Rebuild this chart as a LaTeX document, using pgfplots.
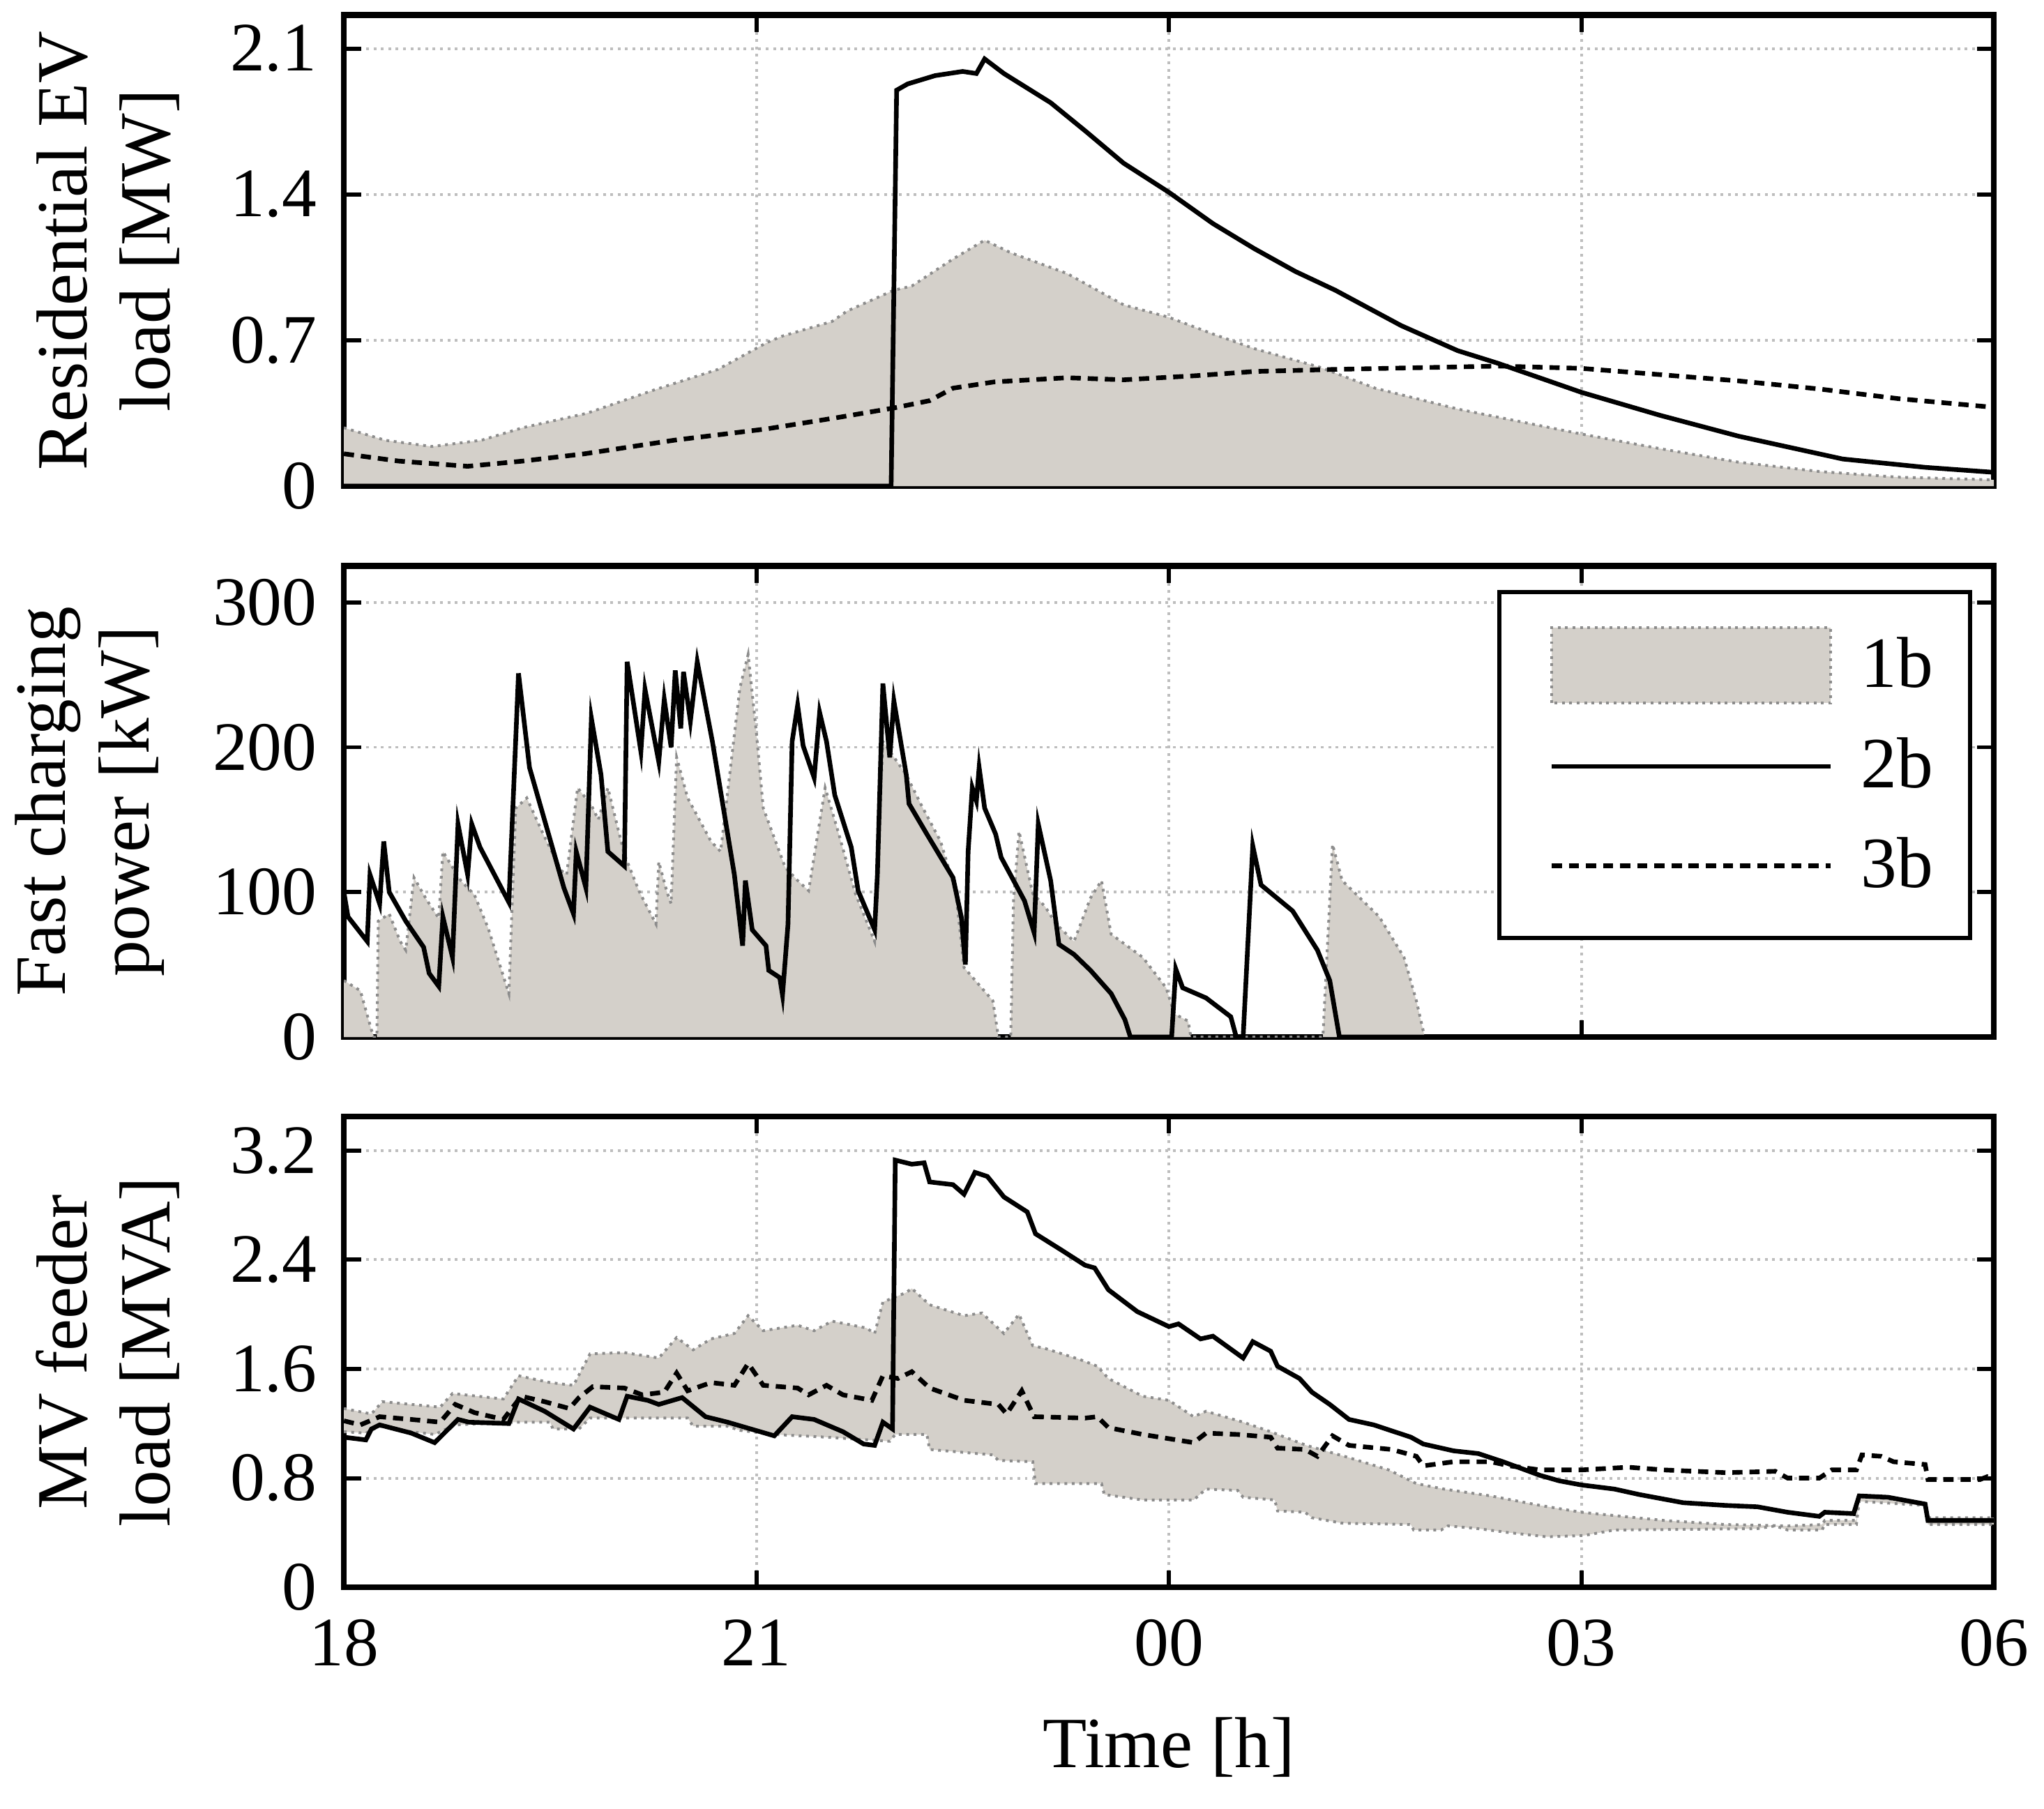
\documentclass[border=0pt]{standalone}
\usepackage{fontspec}
\setmainfont{Liberation Serif}
\usepackage{pgfplots}
\pgfplotsset{compat=1.18}
\usepackage{pgfplotstable}
\usepgfplotslibrary{fillbetween}

\definecolor{fillgray}{RGB}{212,208,202}
\definecolor{edgegray}{RGB}{140,140,140}
\definecolor{gridgray}{RGB}{190,190,190}

\pgfplotstableread{
t v
18 0.28
18.3 0.22
18.64 0.19
19.0 0.22
19.3 0.28
19.77 0.35
20.25 0.46
20.72 0.56
21.08 0.69
21.19 0.72
21.55 0.79
21.66 0.84
22.0 0.94
22.13 0.96
22.43 1.09
22.66 1.18
22.85 1.12
23.26 1.02
23.67 0.87
24 0.81
24.32 0.73
24.62 0.66
25.1 0.57
25.5 0.47
26.1 0.37
27 0.25
27.57 0.18
28.14 0.115
28.73 0.07
29.3 0.043
30 0.03
}\resOne

\pgfplotstableread{
t v
18 0
21.98 0
22.02 1.90
22.1 1.93
22.3 1.97
22.5 1.99
22.6 1.98
22.66 2.05
22.8 1.98
23.14 1.84
23.4 1.70
23.67 1.55
24 1.41
24.32 1.26
24.62 1.14
24.92 1.03
25.21 0.94
25.69 0.77
26.1 0.65
26.39 0.59
27 0.45
27.57 0.34
28.14 0.24
28.9 0.13
29.5 0.09
30 0.066
}\resTwo

\pgfplotstableread{
t v
18 0.155
18.4 0.12
18.9 0.095
19.3 0.12
19.75 0.155
20.4 0.22
21.08 0.275
21.6 0.33
22.0 0.375
22.26 0.41
22.43 0.47
22.73 0.50
23.26 0.52
23.67 0.51
24.2 0.53
24.62 0.55
25.2 0.56
26.4 0.576
27 0.565
27.57 0.535
28.14 0.505
28.73 0.466
29.3 0.42
30 0.378
}\resThree

\pgfplotstableread{
t v
18.0 39
18.12 32
18.2 5
18.22 0
18.24 0
18.25 80
18.33 85
18.41 66
18.45 60
18.51 110
18.6 95
18.69 82
18.72 128
18.85 108
18.95 98
19.05 75
19.15 45
19.2 30
19.25 158
19.33 165
19.45 140
19.58 115
19.62 112
19.7 172
19.8 160
19.85 150
19.92 172
20.04 126
20.15 100
20.27 78
20.29 121
20.35 100
20.38 92
20.42 193
20.5 165
20.67 135
20.74 128
20.88 241
20.94 264
21.0 210
21.05 158
21.21 117
21.3 108
21.38 101
21.5 172
21.6 140
21.72 99
21.86 66
21.92 204
22.09 181
22.2 160
22.34 135
22.45 100
22.51 48
22.72 25
22.76 0
22.85 0
22.87 94
22.91 142
23.01 99
23.1 90
23.18 78
23.31 66
23.43 96
23.51 108
23.58 71
23.81 55
23.98 34
24.04 16
24.14 11
24.16 0
25.12 0
25.19 133
25.26 108
25.53 83
25.71 55
25.8 25
25.86 0
30 0
}\fastOne

\pgfplotstableread{
t v
18.0 100
18.03 83
18.17 66
18.19 112
18.26 92
18.29 135
18.33 100
18.45 80
18.58 62
18.62 44
18.69 35
18.72 83
18.79 55
18.83 147
18.9 112
18.93 147
18.99 131
19.2 93
19.27 251
19.35 186
19.6 103
19.67 85
19.69 128
19.76 103
19.8 220
19.87 181
19.92 128
20.04 118
20.06 259
20.16 197
20.19 240
20.29 190
20.33 233
20.38 200
20.41 253
20.45 213
20.47 252
20.52 218
20.57 259
20.68 204
20.84 112
20.9 63
20.92 108
20.97 74
21.07 63
21.09 46
21.17 41
21.19 29
21.23 78
21.26 204
21.3 229
21.34 201
21.42 179
21.46 224
21.51 204
21.57 167
21.69 131
21.74 101
21.86 74
21.88 112
21.92 244
21.97 193
22.0 232
22.09 181
22.11 161
22.24 140
22.43 110
22.49 83
22.52 50
22.54 128
22.57 172
22.6 163
22.62 186
22.66 158
22.74 140
22.78 124
22.95 94
23.02 72
23.05 147
23.14 108
23.2 64
23.31 57
23.43 46
23.58 30
23.68 12
23.72 0
24.02 0
24.05 47
24.1 34
24.27 27
24.45 14
24.49 0
24.54 0
24.59 94
24.61 132
24.67 105
24.9 87
25.08 60
25.17 39
25.24 0
30 0
}\fastTwo

\pgfplotstableread{
t v
18 1.31
18.2 1.27
18.28 1.36
18.70 1.32
18.79 1.42
19.16 1.38
19.27 1.55
19.5 1.50
19.67 1.48
19.79 1.71
20.04 1.72
20.29 1.68
20.42 1.83
20.54 1.74
20.67 1.82
20.84 1.86
20.94 1.99
21.05 1.88
21.3 1.92
21.42 1.88
21.55 1.95
21.8 1.90
21.86 1.86
21.92 2.09
22.09 2.16
22.13 2.19
22.26 2.07
22.51 1.99
22.64 2.01
22.8 1.86
22.91 2.00
23.01 1.77
23.1 1.75
23.35 1.67
23.48 1.62
23.56 1.53
23.81 1.40
24.0 1.37
24.18 1.25
24.27 1.29
24.54 1.21
24.74 1.14
25.0 1.04
25.31 0.95
25.6 0.86
25.8 0.76
26.0 0.72
26.34 0.67
26.7 0.60
27.0 0.55
27.6 0.49
28.05 0.46
28.5 0.45
28.75 0.46
28.77 0.49
29.0 0.49
29.02 0.67
29.5 0.62
29.52 0.51
30 0.51
}\mvUp

\pgfplotstableread{
t v
18 1.14
18.16 1.13
18.26 1.18
18.49 1.14
18.66 1.12
18.81 1.19
19.25 1.21
19.5 1.21
19.52 1.16
19.71 1.16
19.79 1.24
20.5 1.24
20.54 1.18
20.79 1.18
20.88 1.15
21.13 1.12
21.51 1.10
21.97 1.07
22.01 1.12
22.24 1.12
22.26 1.01
22.72 0.97
22.76 0.93
23.01 0.92
23.03 0.76
23.51 0.76
23.53 0.68
23.81 0.64
24.18 0.64
24.27 0.72
24.5 0.71
24.54 0.66
24.77 0.64
24.79 0.56
24.99 0.55
25.04 0.51
25.26 0.47
25.76 0.46
25.78 0.42
25.98 0.42
26.03 0.45
26.25 0.43
26.48 0.40
26.75 0.37
27.02 0.38
27.24 0.42
28.28 0.43
28.41 0.45
28.5 0.42
28.75 0.42
28.77 0.46
29.0 0.46
29.02 0.63
29.5 0.60
29.52 0.46
30 0.46
}\mvLow

\pgfplotstableread{
t v
18 1.10
18.16 1.08
18.2 1.16
18.26 1.19
18.49 1.13
18.66 1.06
18.83 1.23
18.91 1.21
19.2 1.20
19.27 1.38
19.46 1.29
19.67 1.16
19.79 1.32
20.0 1.23
20.06 1.40
20.21 1.37
20.29 1.34
20.46 1.39
20.63 1.25
20.79 1.21
20.96 1.16
21.13 1.11
21.26 1.25
21.42 1.23
21.63 1.14
21.78 1.05
21.86 1.04
21.92 1.21
21.99 1.16
22.01 3.13
22.13 3.10
22.22 3.11
22.26 2.97
22.43 2.95
22.51 2.88
22.59 3.04
22.68 3.01
22.80 2.86
22.97 2.75
23.03 2.59
23.22 2.47
23.39 2.36
23.46 2.34
23.56 2.18
23.77 2.02
24.0 1.91
24.07 1.93
24.23 1.82
24.32 1.84
24.54 1.68
24.61 1.80
24.74 1.73
24.79 1.62
24.95 1.53
25.04 1.43
25.17 1.34
25.31 1.23
25.49 1.19
25.76 1.10
25.85 1.05
26.07 1.0
26.25 0.98
26.43 0.92
26.7 0.82
26.84 0.78
27.0 0.75
27.24 0.72
27.42 0.68
27.74 0.62
28.05 0.60
28.28 0.59
28.5 0.55
28.73 0.52
28.77 0.55
28.98 0.54
29.02 0.67
29.23 0.66
29.5 0.61
29.52 0.49
30 0.49
}\mvTwo

\pgfplotstableread{
t v
18 1.22
18.12 1.19
18.26 1.25
18.49 1.23
18.7 1.21
18.81 1.34
18.95 1.28
19.16 1.23
19.29 1.40
19.46 1.36
19.64 1.31
19.71 1.39
19.81 1.47
20.04 1.46
20.17 1.41
20.33 1.43
20.42 1.57
20.50 1.44
20.67 1.50
20.84 1.48
20.94 1.64
21.05 1.48
21.3 1.46
21.38 1.41
21.51 1.48
21.63 1.41
21.84 1.37
21.92 1.55
22.03 1.53
22.13 1.58
22.26 1.46
22.51 1.37
22.76 1.34
22.82 1.27
22.93 1.44
23.02 1.25
23.39 1.24
23.48 1.25
23.56 1.17
23.81 1.12
24.18 1.06
24.27 1.13
24.5 1.12
24.74 1.10
24.79 1.02
24.99 1.01
25.08 0.96
25.19 1.11
25.31 1.04
25.62 1.01
25.8 0.96
25.85 0.89
26.07 0.92
26.34 0.92
26.48 0.89
26.7 0.86
27.0 0.86
27.34 0.88
27.6 0.86
28.05 0.84
28.41 0.85
28.5 0.80
28.73 0.80
28.82 0.86
29.0 0.86
29.04 0.97
29.18 0.96
29.27 0.92
29.5 0.90
29.52 0.79
29.9 0.79
29.95 0.81
30 0.78
}\mvThree

\tikzset{
  twob/.style={black, line width=1.0pt},
  threeb/.style={black, line width=1.0pt, dash pattern=on 2.2pt off 1.5pt},
  edge/.style={edgegray, line width=0.6pt, densely dotted},
}

\pgfplotsset{
  panel/.style={
    scale only axis,
    width=356.7pt, height=101.8pt,
    xmin=18, xmax=30,
    xtick={18,21,24,27,30},
    tick align=inside,
    major tick length=3.7pt,
    every tick/.style={black, line width=0.9pt},
    axis line style={black, line width=1.3pt},
    grid=major,
    major grid style={gridgray, line width=0.6pt, densely dotted},
    tick label style={font=\fontsize{15}{15}\selectfont},
    /pgf/number format/assume math mode=true,
    yticklabel style={xshift=-2.3pt},
    ylabel style={font=\fontsize{15.6}{18}\selectfont, align=center, anchor=center},
    set layers,
  },
  legarea/.style={legend image code/.code={\path (0pt,0pt); \draw[fill=fillgray, draw=edgegray, densely dotted, line width=0.6pt] (4.8pt,-8.15pt) rectangle (65.1pt,8.15pt);}},
  legtwo/.style={legend image code/.code={\path (0pt,0pt); \draw[black, line width=1.0pt] (4.8pt,0pt) -- (65.1pt,0pt);}},
  legthree/.style={legend image code/.code={\path (0pt,0pt); \draw[black, line width=1.0pt, dash pattern=on 2.2pt off 1.5pt] (4.8pt,0pt) -- (65.1pt,0pt);}},
}

\begin{document}
\begin{tikzpicture}

% top panel
\begin{axis}[panel,
  at={(0pt,0pt)}, anchor=north west,
  ymin=0, ymax=2.26,
  ytick={0,0.7,1.4,2.1}, yticklabels={0,0.7,1.4,2.1},
  xticklabels={},
  ylabel={Residential EV\\load [MW]},
  ylabel style={at={(axis description cs:-0.143,0.5)}},
]
\addplot[fill=fillgray, draw=none] table {\resOne} \closedcycle;
\addplot[edge] table {\resOne};
\addplot[threeb] table {\resThree};
\addplot[twob] table {\resTwo};
\end{axis}

% middle panel
\begin{axis}[panel,
  at={(0pt,-119.1pt)}, anchor=north west,
  ymin=0, ymax=325,
  ytick={0,100,200,300}, yticklabels={0,100,200,300},
  xticklabels={},
  ylabel={Fast charging\\power [kW]},
  ylabel style={at={(axis description cs:-0.154,0.5)}},
  legend style={at={(axis description cs:0.987,0.949)}, anchor=north east,
    draw=black, line width=0.9pt, fill=white,
    font=\fontsize{15.6}{15.6}\selectfont,
    inner xsep=6pt, inner ysep=7.4pt, row sep=5.2pt, column sep=4.1pt},
  legend cell align=left,
]
\addplot[fill=fillgray, draw=none, legarea] table {\fastOne} \closedcycle;
\addlegendentry{1b}
\addplot[edge, forget plot] table {\fastOne};
\addplot[twob, legtwo] table {\fastTwo};
\addlegendentry{2b}
\addlegendimage{threeb, legthree}
\addlegendentry{3b}
\end{axis}

% bottom panel
\begin{axis}[panel,
  at={(0pt,-238.06pt)}, anchor=north west,
  ymin=0, ymax=3.45,
  ytick={0,0.8,1.6,2.4,3.2}, yticklabels={0,0.8,1.6,2.4,3.2},
  xticklabels={18,21,00,03,06},
  xticklabel style={yshift=-3.5pt},
  ylabel={MV feeder\\load [MVA]},
  ylabel style={at={(axis description cs:-0.143,0.5)}},
  xlabel={Time [h]},
  xlabel style={font=\fontsize{15.6}{18}\selectfont, at={(axis description cs:0.5,-0.241)}, anchor=north},
]
\addplot[draw=none, name path=U, forget plot] table {\mvUp};
\addplot[draw=none, name path=L, forget plot] table {\mvLow};
\addplot[fill=fillgray, draw=none, forget plot] fill between[of=U and L];
\addplot[edge] table {\mvUp};
\addplot[edge] table {\mvLow};
\addplot[threeb] table {\mvThree};
\addplot[twob] table {\mvTwo};
\end{axis}

\path (-73.46pt,3.28pt) rectangle (366.2pt,-387.77pt);
\end{tikzpicture}
\end{document}
